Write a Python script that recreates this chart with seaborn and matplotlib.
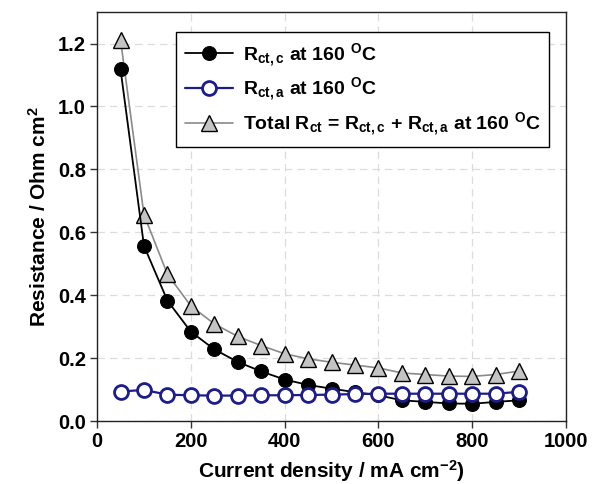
import matplotlib
matplotlib.use("Agg")
import matplotlib.pyplot as plt
import seaborn as sns
import numpy as np

# Current density (mA cm^-2) and charge-transfer resistances (Ohm cm^2) at 160 C
current_density = [50, 100, 150, 200, 250, 300, 350, 400, 450, 500,
                   550, 600, 650, 700, 750, 800, 850, 900]
r_ct_cathode = [1.118, 0.557, 0.383, 0.284, 0.228, 0.188, 0.158, 0.132, 0.115, 0.103,
                0.092, 0.082, 0.066, 0.061, 0.056, 0.055, 0.061, 0.066]
r_ct_anode = [0.094, 0.099, 0.084, 0.082, 0.081, 0.081, 0.082, 0.082, 0.083, 0.084,
              0.086, 0.087, 0.087, 0.087, 0.087, 0.087, 0.087, 0.093]
r_ct_total = [1.212, 0.656, 0.467, 0.366, 0.309, 0.269, 0.240, 0.214, 0.198, 0.187,
              0.178, 0.169, 0.153, 0.148, 0.143, 0.142, 0.148, 0.159]

x_ticks = [0, 200, 400, 600, 800, 1000]
y_ticks = [0.0, 0.2, 0.4, 0.6, 0.8, 1.0, 1.2]

sns.set_theme(style="white")
plt.rcParams["font.family"] = ["Liberation Sans", "DejaVu Sans"]
plt.rcParams["mathtext.fontset"] = "custom"
plt.rcParams["mathtext.rm"] = "Liberation Sans:bold"
plt.rcParams["mathtext.bf"] = "Liberation Sans:bold"
plt.rcParams["mathtext.it"] = "Liberation Sans:bold"
plt.rcParams["mathtext.default"] = "bf"
for key in ["text.color", "axes.labelcolor", "xtick.color", "ytick.color"]:
    plt.rcParams[key] = "black"

fig = plt.figure(figsize=(5.92, 4.84), dpi=100)
ax = fig.add_axes([0.164, 0.130, 0.792, 0.845])

ax.grid(True, color="#dcdcdc", linestyle=(0, (6, 4)), linewidth=0.9)
ax.set_axisbelow(True)

sns.lineplot(x=current_density, y=r_ct_cathode, ax=ax, color="black", linewidth=1.3,
             marker="o", markersize=10, markerfacecolor="black", markeredgecolor="black",
             label=r"R$_{ct,c}$ at 160 $^{O}$C", zorder=3)
sns.lineplot(x=current_density, y=r_ct_anode, ax=ax, color="#1c1c8c", linewidth=1.6,
             marker="o", markersize=10, markerfacecolor="white", markeredgecolor="#1c1c8c",
             markeredgewidth=2.0, label=r"R$_{ct,a}$ at 160 $^{O}$C", zorder=4)
sns.lineplot(x=current_density, y=r_ct_total, ax=ax, color="#8a8a8a", linewidth=1.2,
             marker="^", markersize=11, markerfacecolor="#c4c4c4", markeredgecolor="black",
             markeredgewidth=1.0,
             label=r"Total R$_{ct}$ = R$_{ct,c}$ + R$_{ct,a}$ at 160 $^{O}$C", zorder=2)

ax.set_xlim(0, 1000)
ax.set_ylim(0, 1.3)
ax.set_xticks(x_ticks)
ax.set_yticks(y_ticks)
ax.set_xticklabels([str(v) for v in x_ticks], fontsize=14.5, fontweight="bold")
ax.set_yticklabels([f"{v:.1f}" for v in y_ticks], fontsize=14.5, fontweight="bold")
ax.tick_params(axis="both", direction="out", length=5, width=1, color="#333333",
               bottom=True, left=True, pad=3)

for s in ax.spines.values():
    s.set_color("#222222")
    s.set_linewidth(1.0)

ax.set_xlabel(r"Current density / mA cm$^{-2}$)", fontsize=15, fontweight="bold", labelpad=5)
ax.set_ylabel(r"Resistance / Ohm cm$^{2}$", fontsize=15, fontweight="bold", labelpad=6)

leg = ax.legend(loc="upper left", bbox_to_anchor=(0.168, 0.951), fontsize=14,
                frameon=True, fancybox=False, edgecolor="black", framealpha=1,
                handlelength=2.5, borderpad=0.45, labelspacing=0.35, handletextpad=0.5,
                borderaxespad=0)
leg.get_frame().set_linewidth(1.0)
for t in leg.get_texts():
    t.set_fontweight("bold")

fig.savefig("out.png", dpi=100)
